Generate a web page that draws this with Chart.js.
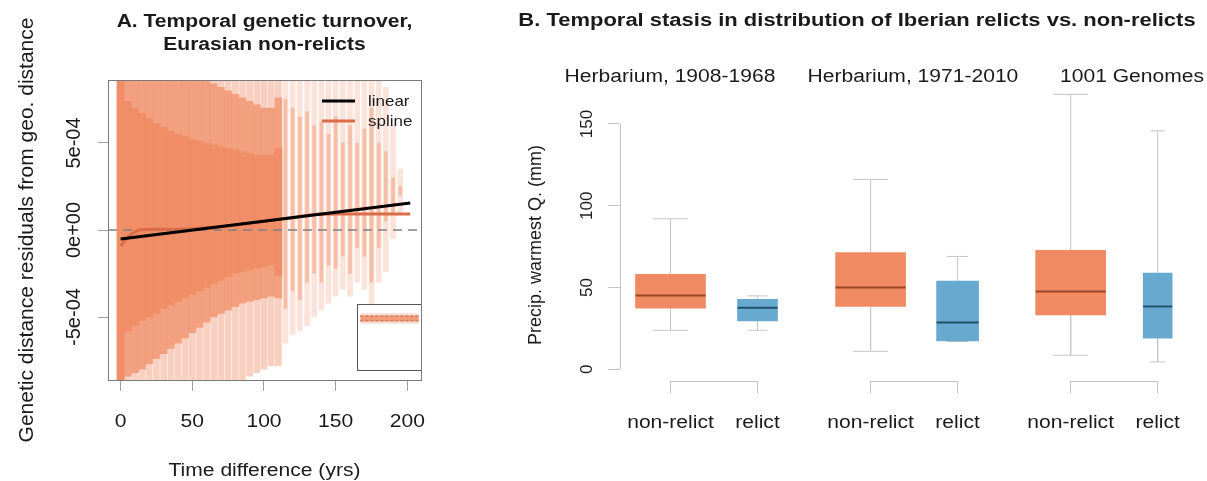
<!DOCTYPE html>
<html>
<head>
<meta charset="utf-8">
<script src="https://cdn.jsdelivr.net/npm/chart.js@4.4.1/dist/chart.umd.min.js"></script>
<style>
  html, body { margin: 0; padding: 0; background: #fff; }
  body { width: 1207px; height: 481px; position: relative; overflow: hidden; }
  .panel { position: absolute; top: 0; }
  #panelA { left: 0; width: 440px; height: 481px; }
  #panelB { left: 470px; width: 737px; height: 481px; }
  #inset { left: 357px; top: 304px; width: 63px; height: 65px; border: 1px solid #555; border-right: none; background: #fff; }
</style>
</head>
<body>
<div class="panel" id="panelA"><canvas id="chartA"></canvas></div>
<div class="panel" id="panelB"><canvas id="chartB"></canvas></div>
<div class="panel" id="inset"><canvas id="chartInset"></canvas></div>
<script>
// ---- Painel A: nuvem de pontos resumida em faixas de 5 anos (unidades de 1e-4) ----
const binsLeft = [0, 5, 10, 15, 20, 25, 30, 35, 40, 45, 50, 55, 60, 65, 70, 75, 80, 85, 90, 95, 100, 105, 110];
const faintLo = [-8.62, -8.62, -8.62, -8.62, -8.62, -8.62, -8.62, -8.62, -8.62, -8.62, -8.62, -8.62, -8.62, -8.62, -8.62, -8.62, -8.62, -8.62, -8.4, -8.2, -8.0, -7.8, -7.8];
const faintHi = [8.62, 8.62, 8.62, 8.62, 8.62, 8.62, 8.62, 8.62, 8.62, 8.62, 8.62, 8.62, 8.62, 8.62, 8.62, 8.62, 8.62, 8.62, 8.62, 8.62, 8.62, 8.62, 8.62];
const midLo = [-8.62, -8.4, -8.2, -8.0, -7.7, -7.4, -7.1, -6.8, -6.5, -6.2, -5.9, -5.6, -5.3, -5.0, -4.8, -4.6, -4.4, -4.2, -4.1, -4.0, -3.9, -3.8, -3.9];
const midHi = [8.62, 8.62, 8.62, 8.62, 8.62, 8.62, 8.62, 8.62, 8.62, 8.62, 8.62, 8.62, 8.62, 8.4, 8.2, 8.0, 7.8, 7.6, 7.4, 7.2, 7.0, 7.0, 7.6];
const denseLo = [-8.62, -5.8, -5.5, -5.2, -5.0, -4.8, -4.5, -4.3, -4.1, -3.9, -3.7, -3.5, -3.3, -3.1, -2.9, -2.7, -2.5, -2.4, -2.3, -2.2, -2.1, -2.0, -2.6];
const denseHi = [8.62, 7.4, 7.0, 6.7, 6.4, 6.1, 5.9, 5.7, 5.5, 5.4, 5.2, 5.1, 5.0, 4.9, 4.8, 4.7, 4.6, 4.5, 4.4, 4.3, 4.3, 4.3, 4.7];

const binsRight = [115, 120, 125, 130, 135, 140, 145, 150, 155, 160, 165, 170, 175, 180, 185, 190, 195];
const faintRightLo = [-6.5, -6.0, -5.8, -5.5, -5.0, -4.6, -4.2, -3.8, -3.4, -3.8, -3.0, -3.4, -4.6, -3.0, -2.4, -0.5, 1.0];
const faintRightHi = [8.62, 8.62, 8.62, 8.62, 8.62, 8.62, 8.62, 8.62, 8.62, 8.62, 8.62, 8.62, 8.62, 8.62, 8.2, 6.0, 3.5];
const midRightLo = [-4.5, -3.5, -4.0, -3.0, -2.5, -3.0, -2.0, -2.2, -1.5, -2.5, -1.0, -1.5, -3.0, -1.0, 0.5, 1.0, 2.0];
const midRightHi = [7.5, 7.0, 6.5, 6.8, 6.0, 6.2, 5.5, 6.5, 5.0, 6.0, 5.0, 5.8, 7.0, 5.0, 4.5, 3.0, 2.5];

// ajustes (linear e spline)
const linearX = [0, 202];
const linearY = [-0.52, 1.55];
const splineX = [0, 3, 6, 9, 13, 25, 40, 55, 70, 90, 110, 125, 138, 150, 202];
const splineY = [-0.92, -0.6, -0.35, -0.15, 0, 0.05, 0.05, 0.1, 0.2, 0.39, 0.6, 0.78, 0.9, 0.92, 0.92];
const legendOrder = ['linear', 'spline'];

const timeTicks = [0, 50, 100, 150, 200];
const residTicks = [-5, 0, 5];

// inset (visão completa)
const insetX = [0, 202];
const insetBandY = [0, 0];
const insetUpperY = [0.45, 0.45];
const insetLowerY = [-0.45, -0.45];

// ---- Painel B: boxplots ----
const groupNames = ['Herbarium, 1908-1968', 'Herbarium, 1971-2010', '1001 Genomes'];
const groupTitlePos = [0.994, 3.787, 6.305];
const boxLabels = ['non-relict', 'relict', 'non-relict', 'relict', 'non-relict', 'relict'];
const boxPos = [1, 2, 3.3, 4.3, 5.6, 6.6];
const isRelict = [false, true, false, true, false, true];
const whiskerLow = [23.9, 23.9, 11.0, 17.0, 8.6, 4.5];
const q1 = [37.3, 29.6, 38.4, 17.3, 33.3, 19.0];
const medians = [45.1, 37.7, 50.0, 28.6, 47.5, 38.4];
const q3 = [58.0, 42.8, 71.4, 53.9, 72.8, 58.9];
const whiskerHigh = [92.0, 44.9, 116.1, 69.0, 168.1, 145.8];
const precipTicks = [0, 50, 100, 150];

// estilos
const ORANGE = '#EF8A62';
const BLUE = '#67A9CF';
const TXT = '#1a1a1a';
const FONT = '"Liberation Sans", Arial, Helvetica, sans-serif';
const SX = 1.17; // a figura original está esticada na horizontal
const boxWidthPx = [70, 40, 70, 42, 70, 29];

function rgba(hex, a) {
  const n = parseInt(hex.slice(1), 16);
  return 'rgba(' + (n >> 16) + ',' + ((n >> 8) & 255) + ',' + (n & 255) + ',' + a + ')';
}

function drawLabel(ctx, text, x, y, o) {
  o = o || {};
  ctx.save();
  ctx.translate(x, y);
  ctx.scale(o.sx || 1, 1);
  if (o.rotate) ctx.rotate(-Math.PI / 2);
  ctx.font = (o.bold ? 'bold ' : '') + (o.size || 18) + 'px ' + FONT;
  ctx.fillStyle = o.color || TXT;
  ctx.textAlign = o.align || 'center';
  ctx.textBaseline = 'alphabetic';
  ctx.fillText(text, 0, 0);
  ctx.restore();
}

function sciLabel(v) {
  if (v === 0) return '0e+00';
  return (v < 0 ? '-' : '') + Math.abs(v) + 'e-04';
}

function floatBars(xs, lo, hi) {
  return xs.map((x, i) => ({ x: x, y: [lo[i], hi[i]] }));
}

function xy(xs, ys) {
  return xs.map((x, i) => ({ x: x, y: ys[i] }));
}

// ---- Gráfico A ----
const panelAPlugin = {
  id: 'panelA',
  afterDraw(chart) {
    const ctx = chart.ctx;
    const area = chart.chartArea;
    const xs = chart.scales.x;
    const ys = chart.scales.y;
    const cx = (area.left + area.right) / 2;

    ctx.save();
    ctx.strokeStyle = '#7a7a7a';
    ctx.lineWidth = 1;
    ctx.strokeRect(area.left + 0.5, area.top + 0.5, area.right - area.left, area.bottom - area.top);
    ctx.restore();

    drawLabel(ctx, 'A. Temporal genetic turnover,', cx, 27, { bold: true, size: 18, sx: SX });
    drawLabel(ctx, 'Eurasian non-relicts', cx, 50, { bold: true, size: 18, sx: SX });

    residTicks.forEach(v => {
      drawLabel(ctx, sciLabel(v), area.left - 28, ys.getPixelForValue(v), { size: 20, rotate: true });
    });
    timeTicks.forEach(v => {
      drawLabel(ctx, String(v), xs.getPixelForValue(v), area.bottom + 47, { size: 18, sx: SX });
    });
    drawLabel(ctx, 'Time difference (yrs)', cx, 476, { size: 18, sx: SX });
    drawLabel(ctx, 'Genetic distance residuals from geo. distance', 33, (area.top + area.bottom) / 2, { size: 21, rotate: true });

    // legenda
    legendOrder.forEach((label, i) => {
      const d = chart.data.datasets.find(ds => ds.legendLabel === label);
      const y = area.top + 21 + i * 20;
      ctx.save();
      ctx.strokeStyle = d.borderColor;
      ctx.lineWidth = 3;
      ctx.beginPath();
      ctx.moveTo(area.right - 99, y);
      ctx.lineTo(area.right - 66, y);
      ctx.stroke();
      ctx.restore();
      drawLabel(ctx, label, area.right - 53, y + 5, { size: 14.5, sx: SX, align: 'left' });
    });
  }
};

new Chart(document.getElementById('chartA'), {
  type: 'bar',
  data: {
    datasets: [
      { type: 'bar', data: floatBars(binsLeft, faintLo, faintHi), backgroundColor: rgba(ORANGE, 0.4), barThickness: 6, grouped: false, order: 5 },
      { type: 'bar', data: floatBars(binsLeft, midLo, midHi), backgroundColor: rgba(ORANGE, 0.68), grouped: false, order: 5 },
      { type: 'bar', data: floatBars(binsLeft, denseLo, denseHi), backgroundColor: rgba(ORANGE, 0.8), grouped: false, order: 5 },
      { type: 'bar', data: floatBars(binsRight, faintRightLo, faintRightHi), backgroundColor: rgba(ORANGE, 0.24), barThickness: 5, grouped: false, order: 5 },
      { type: 'bar', data: floatBars(binsRight, midRightLo, midRightHi), backgroundColor: rgba(ORANGE, 0.42), barThickness: 3, grouped: false, order: 5 },
      { type: 'line', data: [{ x: -8.8, y: 0 }, { x: 209.5, y: 0 }], borderColor: '#808080', borderWidth: 1.5, borderDash: [9, 6], pointRadius: 0, order: 3 },
      { type: 'line', legendLabel: 'spline', data: xy(splineX, splineY), borderColor: '#DB6C48', borderWidth: 3, pointRadius: 0, cubicInterpolationMode: 'monotone', order: 2 },
      { type: 'line', legendLabel: 'linear', data: xy(linearX, linearY), borderColor: '#000000', borderWidth: 3, pointRadius: 0, order: 1 }
    ]
  },
  options: {
    responsive: true,
    maintainAspectRatio: false,
    animation: false,
    events: [],
    layout: { autoPadding: false, padding: { top: 80, right: 19, left: 0, bottom: 0 } },
    plugins: { legend: { display: false }, tooltip: { enabled: false } },
    datasets: { bar: { borderWidth: 0, barPercentage: 1, categoryPercentage: 1 } },
    scales: {
      x: {
        type: 'linear', min: -8.8, max: 209.5, offset: false,
        afterBuildTicks: s => { s.ticks = timeTicks.map(v => ({ value: v })); },
        afterFit: s => { s.height = 101; },
        ticks: { display: false },
        grid: { offset: false, drawOnChartArea: false, drawTicks: true, tickLength: 11, color: '#a0a0a0' },
        border: { display: false }
      },
      y: {
        type: 'linear', min: -8.62, max: 8.62,
        afterBuildTicks: s => { s.ticks = residTicks.map(v => ({ value: v })); },
        afterFit: s => { s.width = 108; },
        ticks: { display: false },
        grid: { drawOnChartArea: false, drawTicks: true, tickLength: 10, color: '#a0a0a0' },
        border: { display: false }
      }
    }
  },
  plugins: [panelAPlugin]
});

// ---- Inset ----
new Chart(document.getElementById('chartInset'), {
  type: 'line',
  data: {
    datasets: [
      { data: xy(insetX, insetBandY), borderColor: rgba(ORANGE, 0.25), borderWidth: 11, pointRadius: 0 },
      { data: xy(insetX, insetBandY), borderColor: rgba(ORANGE, 0.8), borderWidth: 6, pointRadius: 0 },
      { data: xy(insetX, insetUpperY), borderColor: '#222', borderWidth: 1, borderDash: [3, 2], pointRadius: 0 },
      { data: xy(insetX, insetLowerY), borderColor: '#222', borderWidth: 1, borderDash: [3, 2], pointRadius: 0 }
    ]
  },
  options: {
    responsive: true,
    maintainAspectRatio: false,
    animation: false,
    events: [],
    layout: { autoPadding: false, padding: 0 },
    plugins: { legend: { display: false }, tooltip: { enabled: false } },
    scales: {
      x: { type: 'linear', min: -8, max: 210, display: false },
      y: { type: 'linear', min: -10, max: 2.6, display: false }
    }
  }
});

// ---- Gráfico B ----
const whiskerPoints = [];
const capPoints = [];
const capRadius = [];
boxPos.forEach((p, i) => {
  whiskerPoints.push({ x: p, y: q3[i] }, { x: p, y: whiskerHigh[i] }, { x: p, y: null });
  whiskerPoints.push({ x: p, y: q1[i] }, { x: p, y: whiskerLow[i] }, { x: p, y: null });
  capPoints.push({ x: p, y: whiskerHigh[i] }, { x: p, y: whiskerLow[i] });
  capRadius.push(boxWidthPx[i] / 4, boxWidthPx[i] / 4);
});

const boxDatasets = boxPos.map((p, i) => ({
  type: 'bar',
  data: [{ x: p, y: [q1[i], q3[i]] }],
  backgroundColor: isRelict[i] ? BLUE : ORANGE,
  barThickness: boxWidthPx[i],
  grouped: false,
  borderWidth: 0,
  order: 2
}));

const panelBPlugin = {
  id: 'panelB',
  afterDraw(chart) {
    const ctx = chart.ctx;
    const area = chart.chartArea;
    const xs = chart.scales.x;
    const ys = chart.scales.y;

    ctx.save();
    ctx.strokeStyle = '#c4c4c4';
    ctx.lineWidth = 1;
    // eixo y só de 0 a 150
    ctx.beginPath();
    ctx.moveTo(area.left + 0.5, ys.getPixelForValue(precipTicks[0]));
    ctx.lineTo(area.left + 0.5, ys.getPixelForValue(precipTicks[precipTicks.length - 1]));
    ctx.stroke();
    // colchetes de cada grupo
    for (let g = 0; g < groupNames.length; g++) {
      ctx.beginPath();
      ctx.moveTo(xs.getPixelForValue(boxPos[2 * g]), xs.top + 0.5);
      ctx.lineTo(xs.getPixelForValue(boxPos[2 * g + 1]), xs.top + 0.5);
      ctx.stroke();
    }
    ctx.restore();

    precipTicks.forEach(v => {
      drawLabel(ctx, String(v), area.left - 28, ys.getPixelForValue(v), { size: 17, rotate: true });
    });
    boxPos.forEach((p, i) => {
      drawLabel(ctx, boxLabels[i], xs.getPixelForValue(p), xs.top + 47, { size: 18, sx: SX });
    });
    groupNames.forEach((name, g) => {
      drawLabel(ctx, name, xs.getPixelForValue(groupTitlePos[g]), 82, { size: 18, sx: SX });
    });
    drawLabel(ctx, 'Precip. warmest Q. (mm)', 71, 245, { size: 18, rotate: true });
    drawLabel(ctx, 'B. Temporal stasis in distribution of Iberian relicts vs. non-relicts', 387, 26, { bold: true, size: 18.8, sx: SX });
  }
};

new Chart(document.getElementById('chartB'), {
  type: 'bar',
  data: {
    datasets: [
      { type: 'line', data: whiskerPoints, borderColor: '#c6c6c6', borderWidth: 1, pointRadius: 0, spanGaps: false, order: 3 },
      { type: 'scatter', data: capPoints, pointStyle: 'line', pointRadius: capRadius, pointBorderColor: '#c6c6c6', pointBorderWidth: 1, order: 3 },
      ...boxDatasets,
      {
        type: 'scatter',
        data: xy(boxPos, medians),
        pointStyle: 'line',
        pointRadius: boxWidthPx.map(w => w / 2),
        pointBorderColor: isRelict.map(r => r ? '#24506e' : '#9a4428'),
        pointBorderWidth: 2,
        order: 1
      }
    ]
  },
  options: {
    responsive: true,
    maintainAspectRatio: false,
    animation: false,
    events: [],
    layout: { autoPadding: false, padding: { top: 88, right: 0, left: 0, bottom: 0 } },
    plugins: { legend: { display: false }, tooltip: { enabled: false } },
    scales: {
      x: {
        type: 'linear', min: 0.4195, max: 7.167, offset: false,
        afterBuildTicks: s => { s.ticks = boxPos.map(v => ({ value: v })); },
        afterFit: s => { s.height = 100; },
        ticks: { display: false },
        grid: { offset: false, drawOnChartArea: false, drawTicks: true, tickLength: 12, color: '#c4c4c4' },
        border: { display: false }
      },
      y: {
        type: 'linear', min: -7.16, max: 172,
        afterBuildTicks: s => { s.ticks = precipTicks.map(v => ({ value: v })); },
        afterFit: s => { s.width = 150; },
        ticks: { display: false },
        grid: { drawOnChartArea: false, drawTicks: true, tickLength: 12, color: '#c4c4c4' },
        border: { display: false }
      }
    }
  },
  plugins: [panelBPlugin]
});
</script>
</body>
</html>
